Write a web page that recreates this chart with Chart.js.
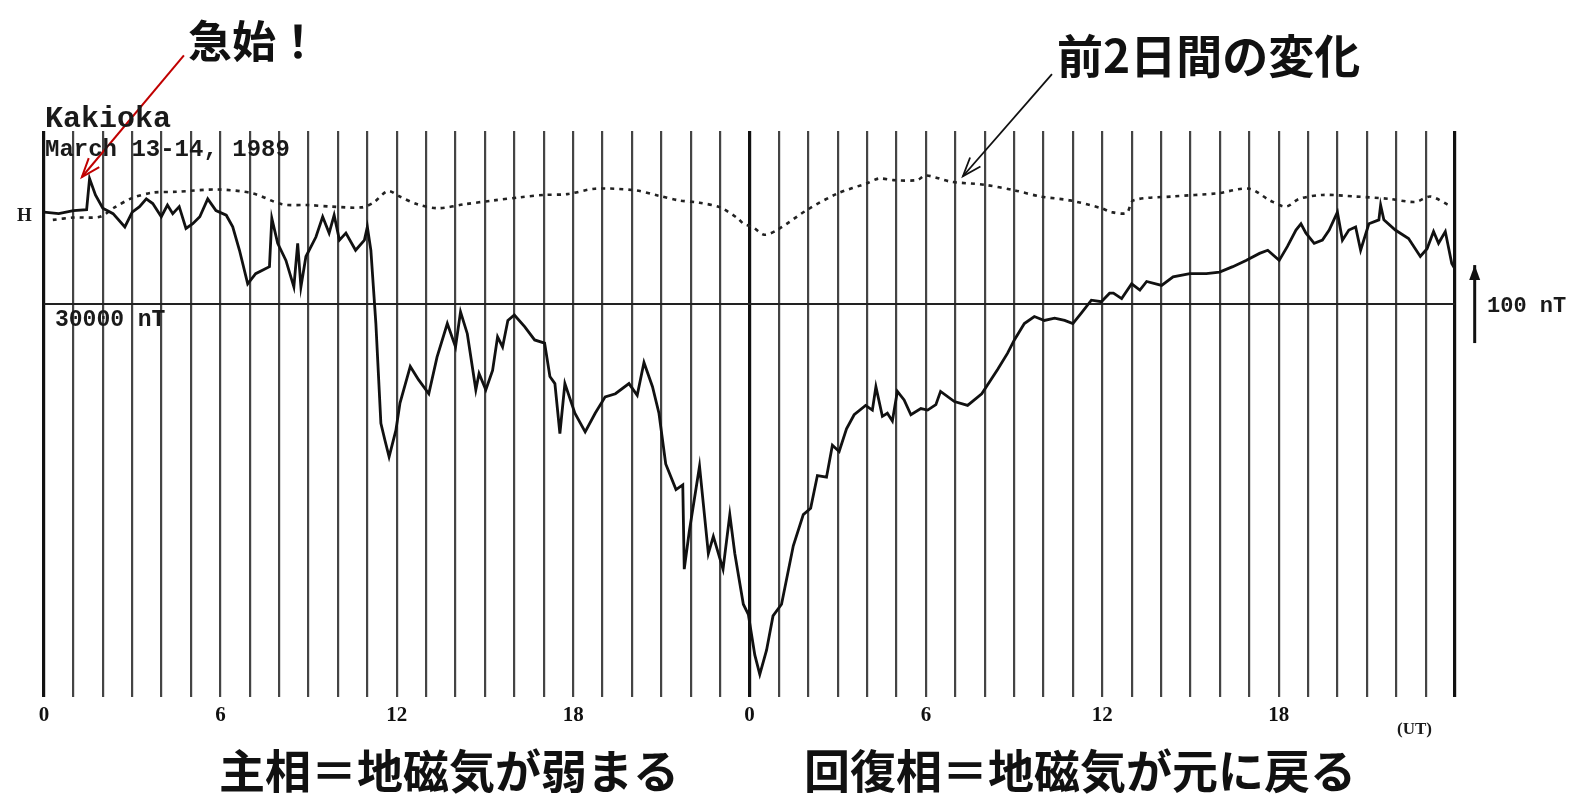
<!DOCTYPE html>
<html>
<head>
<meta charset="utf-8">
<script src="https://cdn.jsdelivr.net/npm/chart.js@4.4.0/dist/chart.umd.min.js"></script>
<style>
  html, body { margin: 0; padding: 0; background: #fff; }
  #wrap { width: 1578px; height: 794px; }
</style>
</head>
<body>
<div id="wrap"><canvas id="mag" width="1578" height="794"></canvas></div>
<script>
// Kakioka H component, March 13-14 1989 (hours from 0 UT on the 13th, nT above/below 30000 nT)
const stormHours = [
  0, 0.5, 1.0, 1.45, 1.55, 1.75, 2.0, 2.35, 2.75, 3.0, 3.25, 3.48, 3.7, 3.99, 4.2, 4.38, 4.6, 4.83,
  5.06, 5.3, 5.57, 5.85, 6.2, 6.42, 6.65, 6.93, 7.2, 7.67, 7.75, 7.95, 8.23, 8.5, 8.63, 8.74, 8.91,
  9.25, 9.48, 9.7, 9.87, 10.05, 10.27, 10.6, 10.9, 11.0, 11.12, 11.29, 11.46, 11.6, 11.74, 11.97,
  12.11, 12.46, 12.74, 13.09, 13.37, 13.72, 14.0, 14.17, 14.4, 14.69, 14.8, 15.03, 15.26, 15.43,
  15.6, 15.78, 16.0, 16.35, 16.69, 17.03, 17.21, 17.38, 17.55, 17.72, 18.06, 18.41, 18.75, 19.09,
  19.44, 19.9, 20.18, 20.41, 20.7, 20.92, 21.15, 21.5, 21.73, 21.78, 21.95, 22.3, 22.6, 22.77,
  23.1, 23.33, 23.5, 23.79, 23.96, 24.18, 24.35, 24.58, 24.8, 25.09, 25.49, 25.83, 26.08, 26.31,
  26.62, 26.82, 27.05, 27.3, 27.56, 27.95, 28.18, 28.3, 28.52, 28.69, 28.86, 29.03, 29.26, 29.49,
  29.83, 30.06, 30.34, 30.5, 30.97, 31.42, 31.9, 32.44, 32.78, 33.01, 33.35, 33.69, 34.03, 34.38,
  34.72, 35.0, 35.28, 35.63, 35.97, 36.25, 36.38, 36.66, 37.0, 37.28, 37.51, 38.02, 38.41, 38.98,
  39.54, 39.99, 40.44, 40.89, 41.35, 41.63, 42.02, 42.3, 42.59, 42.76, 42.93, 43.21, 43.49, 43.72,
  44.0, 44.17, 44.39, 44.62, 44.79, 45.07, 45.41, 45.47, 45.58, 45.97, 46.42, 46.82, 47.05, 47.27,
  47.44, 47.67, 47.89, 48.0
];
const stormValues = [
  118, 116, 120, 121, 161, 140, 123, 116, 99, 118, 125, 135, 129, 112, 127, 116, 125, 97,
  103, 112, 135, 120, 114, 99, 69, 26, 39, 48, 110, 78, 56, 22, 78, 22, 61,
  86, 112, 91, 114, 82, 91, 69, 82, 99, 69, -25, -153, -175, -196, -162,
  -127, -80, -97, -115, -68, -25, -55, -10, -38, -110, -89, -110, -85, -42,
  -55, -21, -14, -29, -46, -50, -93, -102, -166, -102, -140, -164, -140, -119,
  -115, -102, -117, -75, -106, -140, -205, -238, -232, -340, -292, -208, -320, -298,
  -340, -270, -320, -385, -398, -450, -475, -444, -400, -385, -310, -270, -262, -220,
  -222, -181, -189, -160, -142, -130, -136, -106, -144, -140, -150, -112, -123, -142,
  -134, -136, -129, -112, -125, -130, -115, -84, -63, -46, -25, -16, -21, -18,
  -21, -25, -12, 5, 3, 14, 14, 7, 26, 18, 29, 24, 35, 39,
  39, 41, 48, 56, 65, 69, 56, 74, 95, 103, 91, 78, 82, 95,
  118, 82, 95, 99, 69, 103, 108, 127, 108, 95, 84, 61, 71, 93,
  78, 93, 52, 45
];

// change over the previous two days (dotted reference curve)
const quietHours = [
  0.3, 1.0, 1.9, 2.4, 3.0, 3.7, 4.5, 5.9, 7.1, 8.1, 9.0, 9.8, 10.8, 11.2, 11.7, 12.1, 12.7, 13.4,
  14.3, 15.3, 16.2, 17.0, 17.8, 18.75, 20.1, 20.9, 21.6, 22.3, 23.0, 23.6, 23.8, 24.1, 24.5, 24.94,
  25.97, 27.0, 28.0, 28.4, 28.9, 29.7, 30.0, 30.85, 32.0, 33.0, 33.9, 34.9, 35.97, 36.3, 36.83,
  37.06, 38.4, 39.9, 41.0, 41.7, 42.25, 42.7, 43.5, 44.6, 45.75, 46.65, 47.16, 47.78
];
const quietValues = [
  108, 111, 112, 124, 136, 143, 144, 147, 142, 128, 127, 125, 124, 130, 145, 138, 128, 123,
  128, 133, 137, 140, 141, 148, 146, 139, 133, 130, 124, 110, 103, 99, 89, 95,
  121, 142, 155, 161, 159, 159, 165, 157, 153, 146, 138, 133, 123, 118, 117,
  133, 138, 142, 148, 133, 125, 135, 140, 138, 135, 131, 138, 127
];

// axis labels: UT hour of day at every 6 h
const tickHours = [0, 6, 12, 18, 24, 30, 36, 42];
const tickNames = ['0', '6', '12', '18', '0', '6', '12', '18'];

const baseHours = [0, 48];
const baseValues = [0, 0];

const toXY = (xs, ys) => xs.map((x, i) => ({ x: x, y: ys[i] }));

// text + arrows drawn over the record
const notes = {
  id: 'notes',
  afterDraw(chart) {
    const ctx = chart.ctx;
    const sx = chart.scales.x, sy = chart.scales.y;
    const px = (h, v) => [sx.getPixelForValue(h), sy.getPixelForValue(v)];

    const arrow = (from, to, color, width, head, filled) => {
      const [x1, y1] = px(from[0], from[1]);
      const [x2, y2] = px(to[0], to[1]);
      const a = Math.atan2(y2 - y1, x2 - x1);
      ctx.save();
      ctx.strokeStyle = color;
      ctx.fillStyle = color;
      ctx.lineWidth = width;
      ctx.beginPath();
      ctx.moveTo(x1, y1);
      ctx.lineTo(x2, y2);
      ctx.stroke();
      const ax = x2 - head * Math.cos(a - 0.35), ay = y2 - head * Math.sin(a - 0.35);
      const bx = x2 - head * Math.cos(a + 0.35), by = y2 - head * Math.sin(a + 0.35);
      ctx.beginPath();
      ctx.moveTo(ax, ay);
      ctx.lineTo(x2, y2);
      ctx.lineTo(bx, by);
      if (filled) { ctx.closePath(); ctx.fill(); } else { ctx.stroke(); }
      ctx.restore();
    };

    arrow([4.76, 319], [1.29, 163], '#c00000', 2, 20, false);
    arrow([34.29, 295], [31.26, 164], '#111', 1.8, 20, false);
    arrow([48.67, -50], [48.67, 50], '#111', 3, 16, true);

    ctx.save();
    ctx.fillStyle = '#111';
    ctx.textBaseline = 'middle';
    ctx.textAlign = 'left';
    const jp = '"Noto Sans CJK JP", "Noto Sans", sans-serif';
    ctx.font = 'bold 44px ' + jp;
    ctx.fillText('急始！', 188, 41);
    ctx.font = 'bold 46px ' + jp;
    ctx.fillText('前2日間の変化', 1057, 56);
    ctx.fillText('主相＝地磁気が弱まる', 219, 771);
    ctx.fillText('回復相＝地磁気が元に戻る', 804, 771);

    ctx.fillStyle = '#1a1a1a';
    ctx.font = 'bold 30px "Liberation Mono", monospace';
    ctx.fillText('Kakioka', 45, 119);
    ctx.font = 'bold 24px "Liberation Mono", monospace';
    ctx.fillText('March 13-14, 1989', 45, 150);
    ctx.font = 'bold 23px "Liberation Mono", monospace';
    ctx.fillText('30000 nT', 55, 320);
    ctx.font = 'bold 22px "Liberation Mono", monospace';
    ctx.fillText('100 nT', 1487, 306);
    ctx.font = 'bold 19px "Liberation Serif", serif';
    ctx.fillText('H', 17, 216);
    ctx.font = 'bold 17px "Liberation Serif", serif';
    ctx.fillText('(UT)', 1397, 730);
    ctx.restore();
  }
};

new Chart(document.getElementById('mag').getContext('2d'), {
  type: 'line',
  data: {
    datasets: [
      {
        label: 'H',
        data: toXY(stormHours, stormValues),
        borderColor: '#111',
        borderWidth: 2.8,
        pointRadius: 0,
        tension: 0,
        order: 1
      },
      {
        label: 'previous 2 days',
        data: toXY(quietHours, quietValues),
        borderColor: '#222',
        borderWidth: 2.6,
        borderDash: [4, 5],
        pointRadius: 0,
        tension: 0.3,
        order: 2
      },
      {
        label: '30000 nT',
        data: toXY(baseHours, baseValues),
        borderColor: '#222',
        borderWidth: 2,
        pointRadius: 0,
        order: 3
      }
    ]
  },
  options: {
    responsive: false,
    devicePixelRatio: 1,
    animation: false,
    layout: { padding: { left: 44, right: 123, top: 131, bottom: 0 } },
    plugins: { legend: { display: false }, tooltip: { enabled: false } },
    scales: {
      x: {
        type: 'linear',
        min: 0,
        max: 48,
        afterFit: (axis) => { axis.height = 97; },
        border: { display: false },
        grid: {
          color: (c) => (c.tick && c.tick.value % 24 === 0) ? '#111' : '#444',
          lineWidth: (c) => (c.tick && c.tick.value % 24 === 0) ? 3.2 : 2.2,
          drawTicks: false
        },
        ticks: {
          stepSize: 1,
          autoSkip: false,
          maxRotation: 0,
          padding: 6,
          color: '#111',
          font: { family: '"Liberation Serif", serif', size: 21, weight: 'bold' },
          callback: (v) => {
            const i = tickHours.indexOf(v);
            return i >= 0 ? tickNames[i] : '';
          }
        }
      },
      y: {
        display: false,
        min: -504,
        max: 222
      }
    }
  },
  plugins: [notes]
});
</script>
</body>
</html>
